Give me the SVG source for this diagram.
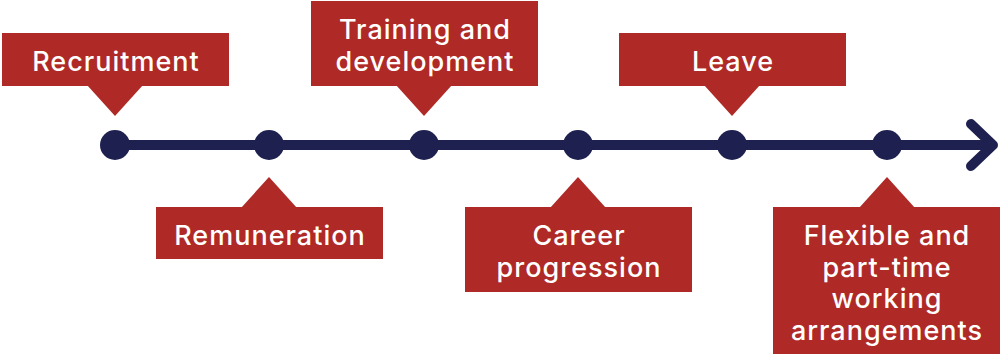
<svg xmlns="http://www.w3.org/2000/svg" width="1001" height="356" viewBox="0 0 1001 356">
<style>
.box{fill:#AF2926}
.dot{fill:#1E2150}
.lbl{fill:#FFFFFF;font-family:Inter,"Noto Sans","Liberation Sans",sans-serif;font-size:27px;font-weight:500;letter-spacing:1px;text-anchor:middle}
.line{stroke:#1E2150;stroke-width:10;fill:none;stroke-linecap:round;stroke-linejoin:round}
</style>
<g id="connectors">
<line class="line" x1="115" y1="145" x2="992" y2="145"/>
<polyline class="line" points="971,124 993,145 971,166"/>
</g>
<g id="dots">
<circle class="dot" cx="115" cy="145" r="15"/>
<circle class="dot" cx="269" cy="145" r="15"/>
<circle class="dot" cx="424" cy="145" r="15"/>
<circle class="dot" cx="578" cy="145" r="15"/>
<circle class="dot" cx="732" cy="145" r="15"/>
<circle class="dot" cx="887" cy="145" r="15"/>
</g>
<g id="recruitment">
<rect class="box" x="2" y="33" width="227" height="53"/>
<polygon class="box" points="87,85 143,85 115,116"/>
<text class="lbl" x="116" y="71">Recruitment</text>
</g>
<g id="remuneration">
<rect class="box" x="156" y="207" width="227" height="52"/>
<polygon class="box" points="241,208 297,208 269,177"/>
<text class="lbl" x="270" y="245">Remuneration</text>
</g>
<g id="training">
<rect class="box" x="311" y="1" width="227" height="85"/>
<polygon class="box" points="396,85 452,85 424,116"/>
<text class="lbl" x="425" y="39">Training and</text>
<text class="lbl" x="425" y="71">development</text>
</g>
<g id="career">
<rect class="box" x="465" y="207" width="227" height="85"/>
<polygon class="box" points="550,208 606,208 578,177"/>
<text class="lbl" x="579" y="245">Career</text>
<text class="lbl" x="579" y="277">progression</text>
</g>
<g id="leave">
<rect class="box" x="619" y="33" width="227" height="53"/>
<polygon class="box" points="704,85 760,85 732,116"/>
<text class="lbl" x="733" y="71">Leave</text>
</g>
<g id="flexible">
<rect class="box" x="773" y="207" width="227" height="147"/>
<polygon class="box" points="859,208 915,208 887,177"/>
<text class="lbl" x="887" y="245">Flexible and</text>
<text class="lbl" x="887" y="276.5">part-time</text>
<text class="lbl" x="887" y="308">working</text>
<text class="lbl" x="887" y="339.5">arrangements</text>
</g>
</svg>
